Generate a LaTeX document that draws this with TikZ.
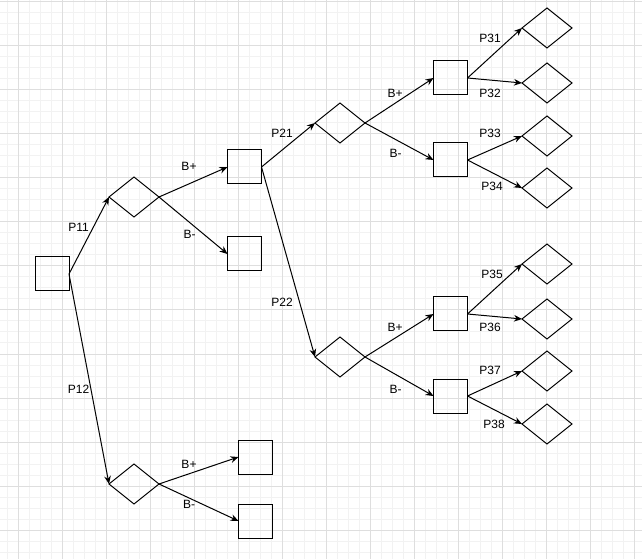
\documentclass[tikz,border=0pt]{standalone}
\usepackage{fontspec}
\setmainfont{Liberation Sans}
\usetikzlibrary{shapes.geometric,arrows.meta,backgrounds}
\definecolor{gridmajor}{HTML}{DEDEDE}
\definecolor{gridminor}{HTML}{F2F2F2}
\tikzset{state box/.style={draw=black, rectangle, minimum size=25.5pt, inner sep=0pt, outer sep=0pt}}
\tikzset{chance node/.style={draw=black, diamond, aspect=1.25, minimum width=37.5pt, minimum height=30pt, inner sep=0pt, outer sep=0pt}}
\tikzset{branch label/.style={font=\fontsize{9}{10}\selectfont, inner sep=0pt}}

\begin{document}
\begin{tikzpicture}[x=0.75pt, y=-0.75pt, line width=0.75pt, >={Stealth[length=6pt,width=5pt]}]
\useasboundingbox[fill=white] (0,0) rectangle (642,559);
% grid
\foreach \x in {7,18,...,640} \draw[gridminor] (\x,0) -- (\x,559);
\foreach \y in {2,13,...,558} \draw[gridminor] (0,\y) -- (642,\y);
\foreach \x in {18,62,...,640} \draw[gridmajor] (\x,0) -- (\x,559);
\foreach \y in {2,46,...,558} \draw[gridmajor] (0,\y) -- (642,\y);
% nodes
\node[state box] (root) at (52,274) {};
\node[chance node] (d11) at (134,197) {};
\node[chance node] (d12) at (134,484) {};
\node[state box] (b11p) at (244.5,167) {};
\node[state box] (b11m) at (244.5,254) {};
\node[state box] (b12p) at (255.5,457) {};
\node[state box] (b12m) at (255.5,521) {};
\node[chance node] (d21) at (340,123) {};
\node[chance node] (d22) at (340,357) {};
\node[state box] (b21p) at (450.5,78) {};
\node[state box] (b21m) at (450.5,160) {};
\node[state box] (b22p) at (450.5,314) {};
\node[state box] (b22m) at (450.5,396) {};
\node[chance node] (d31) at (547,28) {};
\node[chance node] (d32) at (547,83) {};
\node[chance node] (d33) at (547,136) {};
\node[chance node] (d34) at (547,188) {};
\node[chance node] (d35) at (547,264) {};
\node[chance node] (d36) at (547,319) {};
\node[chance node] (d37) at (547,371) {};
\node[chance node] (d38) at (547,424) {};
% connectors
\draw[->] (root.east) -- (d11.west);
\draw[->] (root.east) -- (d12.west);
\draw[->] (d11.east) -- (b11p.west);
\draw[->] (d11.east) -- (b11m.west);
\draw[->] (d12.east) -- (b12p.west);
\draw[->] (d12.east) -- (b12m.west);
\draw[->] (b11p.east) -- (d21.west);
\draw[->] (b11p.east) -- (d22.west);
\draw[->] (d21.east) -- (b21p.west);
\draw[->] (d21.east) -- (b21m.west);
\draw[->] (d22.east) -- (b22p.west);
\draw[->] (d22.east) -- (b22m.west);
\draw[->] (b21p.east) -- (d31.west);
\draw[->] (b21p.east) -- (d32.west);
\draw[->] (b21m.east) -- (d33.west);
\draw[->] (b21m.east) -- (d34.west);
\draw[->] (b22p.east) -- (d35.west);
\draw[->] (b22p.east) -- (d36.west);
\draw[->] (b22m.east) -- (d37.west);
\draw[->] (b22m.east) -- (d38.west);
% labels
\node[branch label] (l11) at (78.5,227.5) {P11};
\node[branch label] (l12) at (78.5,389.5) {P12};
\node[branch label] (l11p) at (189,166.5) {B+};
\node[branch label] (l11m) at (189.5,234.5) {B-};
\node[branch label] (l12p) at (189,464.5) {B+};
\node[branch label] (l12m) at (189,504.5) {B-};
\node[branch label] (l21) at (282,133.5) {P21};
\node[branch label] (l22) at (282,302) {P22};
\node[branch label] (l21p) at (395,93) {B+};
\node[branch label] (l21m) at (395.5,153.5) {B-};
\node[branch label] (l22p) at (395,327.5) {B+};
\node[branch label] (l22m) at (395.5,389.5) {B-};
\node[branch label] (l31) at (490,38) {P31};
\node[branch label] (l32) at (490,93) {P32};
\node[branch label] (l33) at (490,133.5) {P33};
\node[branch label] (l34) at (492,186) {P34};
\node[branch label] (l35) at (492,274) {P35};
\node[branch label] (l36) at (490,327.5) {P36};
\node[branch label] (l37) at (490,370) {P37};
\node[branch label] (l38) at (494,424) {P38};
\end{tikzpicture}
\end{document}
